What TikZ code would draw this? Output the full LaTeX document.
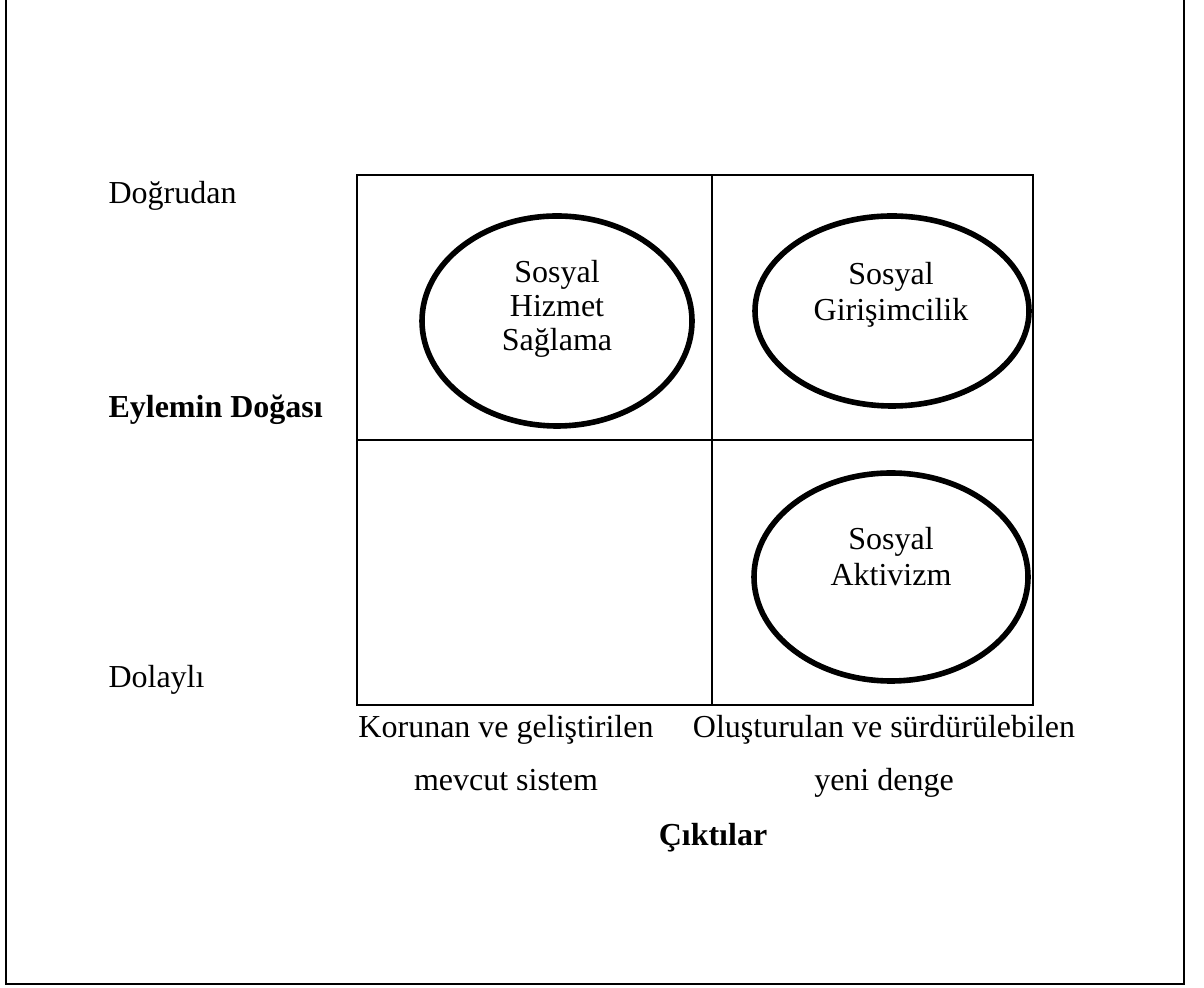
\documentclass[tikz,border=0pt]{standalone}
\usepackage{fontspec}
\setmainfont{Liberation Serif}
\usetikzlibrary{shapes.geometric}
\tikzset{
  oval/.style={draw, ellipse, line width=2.1pt, inner sep=0pt},
  txt/.style={font=\fontsize{12}{13.5}\selectfont, align=center, inner sep=0pt},
  axis/.style={font=\fontsize{12}{20}\selectfont, align=center, inner sep=0pt, text depth=0pt},
}
\begin{document}
\begin{tikzpicture}[x=37.5pt,y=37.5pt]
\useasboundingbox (0,0) rectangle (12.04,9.87);
\draw[line width=1.1pt] (0.06,9.87) -- (0.06,0.03) -- (11.84,0.03) -- (11.84,9.87);
% quadrants
\draw[line width=0.75pt] (3.57,2.82) rectangle (10.33,8.12);
\draw[line width=0.75pt] (7.12,2.82) -- (7.12,8.12);
\draw[line width=0.75pt] (3.57,5.47) -- (10.33,5.47);
% ellipses
\node[oval, minimum width=101.25pt, minimum height=78.75pt] (hizmet) at (5.57,6.66) {};
\node[oval, minimum width=102.75pt, minimum height=71.25pt] (girisim) at (8.92,6.76) {};
\node[oval, minimum width=102.75pt, minimum height=78pt] (aktivizm) at (8.91,4.10) {};
\node[txt, font=\fontsize{12}{12.8}\selectfont] (hizmettxt) at (5.57,6.78) {Sosyal\\Hizmet\\Sağlama};
\node[txt] (girisimtxt) at (8.91,6.92) {Sosyal\\Girişimcilik};
\node[txt] (aktivizmtxt) at (8.91,4.30) {Sosyal\\Aktivizm};
% vertical axis
\node[txt, anchor=west] (dogrudan) at (1.08,7.91) {Doğrudan};
\node[txt, anchor=west, font=\fontsize{12}{13.5}\selectfont\bfseries] (eylem) at (1.08,5.77) {Eylemin Doğası};
\node[txt, anchor=west] (dolayli) at (1.08,3.07) {Dolaylı};
% horizontal axis
\node[axis] (korunan) at (5.06,2.34) {Korunan ve geliştirilen\\mevcut sistem};
\node[axis] (olusturulan) at (8.84,2.34) {Oluşturulan ve sürdürülebilen\\yeni denge};
\node[txt, font=\fontsize{12}{13.5}\selectfont\bfseries] (ciktilar) at (7.13,1.49) {Çıktılar};
\end{tikzpicture}
\end{document}
